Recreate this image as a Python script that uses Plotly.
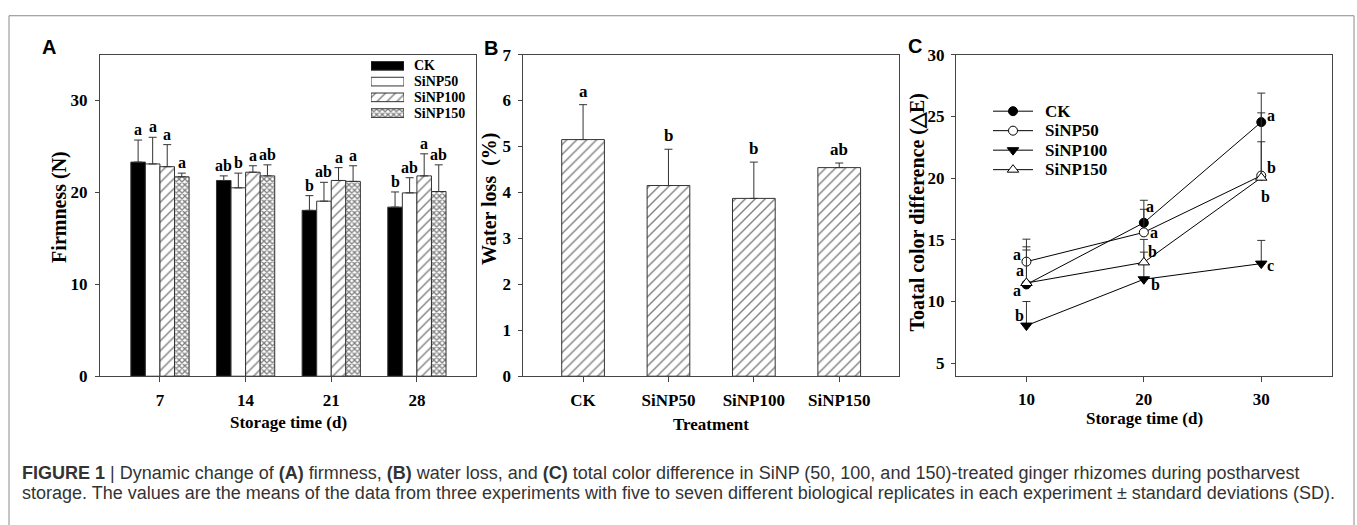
import plotly.graph_objects as go

W, H = 1357, 525

# ---------------- data ----------------
treatments = ["CK", "SiNP50", "SiNP100", "SiNP150"]

# Panel A: firmness (N)
days_a = ["7", "14", "21", "28"]
firm_ck = [23.3, 21.3, 18.05, 18.4]
firm_50 = [23.1, 20.5, 19.05, 19.95]
firm_100 = [22.8, 22.2, 21.3, 21.8]
firm_150 = [21.7, 21.8, 21.2, 20.1]
firm_sd_ck = [2.4, 0.5, 1.6, 1.65]
firm_sd_50 = [2.9, 1.6, 2.05, 1.65]
firm_sd_100 = [2.4, 0.7, 1.4, 2.4]
firm_sd_150 = [0.4, 1.2, 1.7, 2.9]
firm_let_ck = ["a", "ab", "b", "b"]
firm_let_50 = ["a", "b", "ab", "ab"]
firm_let_100 = ["a", "a", "a", "a"]
firm_let_150 = ["a", "ab", "a", "ab"]

# Panel B: water loss (%)
water = [5.15, 4.15, 3.87, 4.54]
water_sd = [0.76, 0.79, 0.79, 0.10]
water_let = ["a", "b", "b", "ab"]

# Panel C: total colour difference
days_c = [10, 20, 30]
dE_ck = [11.38, 16.38, 24.53]
dE_50 = [13.23, 15.6, 20.2]
dE_100 = [8.05, 11.8, 13.07]
dE_150 = [11.5, 13.17, 20.03]
dE_sd_ck = [3.05, 1.82, 2.35]
dE_sd_50 = [1.82, 1.87, 2.74]
dE_sd_100 = [1.95, 2.2, 1.88]
dE_sd_150 = [2.67, 1.86, 5.25]
dE_let_ck = ["a", "a", "a"]
dE_let_50 = ["a", "a", "b"]
dE_let_100 = ["b", "b", "c"]
dE_let_150 = ["a", "b", "b"]

# ---------------- styles ----------------
SERIF = "Liberation Serif, Times New Roman, serif"
SANS = "Liberation Sans, Arial, sans-serif"
AX = "#444444"

def px(x):
    return x / W

def py(y):
    return 1 - y / H

fig = go.Figure()

bar_styles = [
    dict(color="black", pattern=dict(shape="")),
    dict(color="white", pattern=dict(shape="")),
    dict(color="white", pattern=dict(shape="/", size=7, solidity=0.2, fgcolor="black", bgcolor="white")),
    dict(color="white", pattern=dict(shape="x", size=4, solidity=0.55, fgcolor="black", bgcolor="white")),
]

# ---- Panel A bars ----
bw = 0.17
firm_means = [firm_ck, firm_50, firm_100, firm_150]
firm_sds = [firm_sd_ck, firm_sd_50, firm_sd_100, firm_sd_150]
firm_lets = [firm_let_ck, firm_let_50, firm_let_100, firm_let_150]
xa = list(range(len(days_a)))
for j, name in enumerate(treatments):
    st = bar_styles[j]
    fig.add_trace(go.Bar(
        x=xa, y=firm_means[j], width=bw, offset=(j - 2) * bw,
        marker=dict(color=st["color"], pattern=st["pattern"], line=dict(color="#333333", width=1)),
        error_y=dict(type="data", symmetric=False, array=firm_sds[j], arrayminus=[0] * len(xa),
                     color="#333333", thickness=1, width=4),
        xaxis="x", yaxis="y", showlegend=False, name=name))

# ---- Panel A legend swatches (overlay axis) ----
for j, name in enumerate(treatments):
    st = bar_styles[j]
    fig.add_trace(go.Bar(
        x=[1], y=[j], base=0, orientation="h", width=0.55,
        marker=dict(color=st["color"], pattern=st["pattern"], line=dict(color="#333333", width=1)),
        xaxis="x4", yaxis="y4", showlegend=False, name=name))

# ---- Panel B bars ----
xb = list(range(len(treatments)))
fig.add_trace(go.Bar(
    x=xb, y=water, width=0.5,
    marker=dict(color="white", pattern=bar_styles[2]["pattern"], line=dict(color="#333333", width=1)),
    error_y=dict(type="data", symmetric=False, array=water_sd, arrayminus=[0] * len(xb),
                 color="#333333", thickness=1, width=4),
    xaxis="x2", yaxis="y2", showlegend=False))

# ---- Panel C lines ----
c_means = [dE_ck, dE_50, dE_100, dE_150]
c_sds = [dE_sd_ck, dE_sd_50, dE_sd_100, dE_sd_150]
c_lets = [dE_let_ck, dE_let_50, dE_let_100, dE_let_150]
c_markers = [
    dict(symbol="circle", color="black", size=9, line=dict(color="black", width=1)),
    dict(symbol="circle", color="white", size=9, line=dict(color="black", width=1)),
    dict(symbol="triangle-down", color="black", size=10, line=dict(color="black", width=1)),
    dict(symbol="triangle-up", color="white", size=10, line=dict(color="black", width=1)),
]
for j, name in enumerate(treatments):
    fig.add_trace(go.Scatter(
        x=days_c, y=c_means[j], mode="lines+markers",
        line=dict(color="black", width=1), marker=c_markers[j],
        error_y=dict(type="data", symmetric=False, array=c_sds[j], arrayminus=[0] * len(days_c),
                     color="#333333", thickness=1, width=4),
        xaxis="x3", yaxis="y3", showlegend=False, name=name))

# ---- Panel C legend (overlay axis) ----
for j, name in enumerate(treatments):
    fig.add_trace(go.Scatter(x=[0, 1], y=[j, j], mode="lines", line=dict(color="black", width=1),
                             xaxis="x5", yaxis="y5", showlegend=False, hoverinfo="skip"))
    fig.add_trace(go.Scatter(x=[0.5], y=[j], mode="markers", marker=c_markers[j],
                             xaxis="x5", yaxis="y5", showlegend=False, hoverinfo="skip"))

# ---------------- axes ----------------
def axis(**kw):
    d = dict(showline=True, mirror=True, linecolor=AX, linewidth=1, ticks="outside",
             tickcolor=AX, tickwidth=1, showgrid=False, zeroline=False,
             tickfont=dict(family=SERIF, size=17, color="black", weight="bold"))
    d.update(kw)
    return d

yd = [py(381), py(47.3)]
layout = dict(
    width=W, height=H, margin=dict(l=0, r=0, t=0, b=0),
    paper_bgcolor="white", plot_bgcolor="white", barmode="overlay", hovermode=False,
    xaxis=axis(domain=[px(100), px(476)], range=[-0.70, 3.69], tickvals=xa, ticktext=days_a,
               ticklen=5, ticklabelstandoff=3, anchor="y"),
    yaxis=axis(domain=yd, range=[0, 35], tickvals=[0, 10, 20, 30], ticklen=4,
               ticklabelstandoff=4, anchor="x"),
    xaxis2=axis(domain=[px(523.3), px(899)], range=[-0.70, 3.70], tickvals=xb, ticktext=treatments,
                ticklen=5, ticklabelstandoff=3, anchor="y2"),
    yaxis2=axis(domain=yd, range=[0, 7], tickvals=list(range(8)), ticklen=4,
                ticklabelstandoff=4, anchor="x2"),
    xaxis3=axis(domain=[px(956), px(1331.7)], range=[4, 36], tickvals=days_c, ticklen=5,
                ticklabelstandoff=2, anchor="y3"),
    yaxis3=axis(domain=yd, range=[3.95, 30], tickvals=[5, 10, 15, 20, 25, 30], ticklen=4,
                ticklabelstandoff=3, anchor="x3"),
    xaxis4=dict(domain=[px(371), px(404)], range=[0, 1], visible=False, anchor="y4"),
    yaxis4=dict(domain=[py(116.15), py(50.85)], range=[3.5, -0.5], visible=False, anchor="x4"),
    xaxis5=dict(domain=[px(993), px(1033)], range=[0, 1], visible=False, anchor="y5"),
    yaxis5=dict(domain=[py(176.8), py(95.9)], range=[3.5, -0.5], visible=False, anchor="x5"),
)
fig.update_layout(**layout)

ann = []
def txt(x, y, s, size=17, family=SERIF, xanchor="center", yanchor="middle", angle=0, color="black", **kw):
    d = dict(x=x, y=y, xref="paper", yref="paper", text=s, showarrow=False,
             font=dict(family=family, size=size, color=color), xanchor=xanchor, yanchor=yanchor,
             textangle=angle)
    d.update(kw)
    ann.append(d)

# Panel letters
txt(px(49), py(39.5), "<b>A</b>", size=20, family=SANS)
txt(px(491), py(40), "<b>B</b>", size=20, family=SANS)
txt(px(915), py(38.5), "<b>C</b>", size=20, family=SANS)

# Axis titles
txt(px(59.3), py(205), "<b>Firmness (N)</b>", size=20, angle=-90)
txt(px(489.3), py(196.7), "<b>Water loss  (%)</b>", size=20, angle=-90)
txt(px(917.5), py(211.7), "<b>Toatal color difference (△E)</b>", size=20, angle=-90)
txt(px(288), py(429), "<b>Storage time (d)</b>", size=17)
txt(px(711), py(431), "<b>Treatment</b>", size=17)
txt(px(1144), py(425), "<b>Storage time (d)</b>", size=17)

# Legend A text
for j, name in enumerate(treatments):
    txt(px(412), py(59 + j * 16.4), "<b>%s</b>" % name, size=14, xanchor="left")
# Legend C text
for j, name in enumerate(treatments):
    txt(px(1043), py(106 + j * 20.2), "<b>%s</b>" % name, size=17, xanchor="left")

# Significance letters A
for j in range(len(treatments)):
    for i in xa:
        ann.append(dict(x=i + (j - 1.5) * bw, y=firm_means[j][i] + firm_sds[j][i], xref="x", yref="y",
                        text="<b>%s</b>" % firm_lets[j][i], showarrow=False, yanchor="bottom",
                        font=dict(family=SERIF, size=16, color="black"), yshift=0))
# Significance letters B
for i in xb:
    ann.append(dict(x=i, y=water[i] + water_sd[i], xref="x2", yref="y2",
                    text="<b>%s</b>" % water_let[i], showarrow=False, yanchor="bottom",
                    font=dict(family=SERIF, size=17, color="black"), yshift=2))
# Significance letters C (pixel offsets from each point)
c_shift = [
    [(-9, -6), (6, 16), (10, 7)],
    [(-9, 7), (10, 0), (10, 8)],
    [(-7, 10), (12, -5), (9, -2)],
    [(-6, 12), (9, 11), (4, -19)],
]
for j in range(len(treatments)):
    for i, d in enumerate(days_c):
        dx, dy = c_shift[j][i]
        ann.append(dict(x=d, y=c_means[j][i], xref="x3", yref="y3", text="<b>%s</b>" % c_lets[j][i],
                        showarrow=False, xshift=dx, yshift=dy,
                        font=dict(family=SERIF, size=16, color="black")))

# Caption
cap1 = ("<b>FIGURE 1</b> | Dynamic change of <b>(A)</b> firmness, <b>(B)</b> water loss, and <b>(C)</b> "
        "total color difference in SiNP (50, 100, and 150)-treated ginger rhizomes during postharvest")
cap2 = ("storage. The values are the means of the data from three experiments with five to seven different "
        "biological replicates in each experiment ± standard deviations (SD).")
txt(px(20), py(481), cap1, size=18, family=SANS, xanchor="left", color="#333333")
txt(px(20), py(502), cap2, size=18, family=SANS, xanchor="left", color="#333333")

fig.update_layout(annotations=ann)

# outer frame
fig.add_shape(type="rect", xref="paper", yref="paper", x0=px(9), x1=px(1354), y0=-0.1, y1=py(7),
              line=dict(color="#8a8a8a", width=1), fillcolor="rgba(0,0,0,0)", layer="below")

fig.write_html("out.html", config=dict(displayModeBar=False))
